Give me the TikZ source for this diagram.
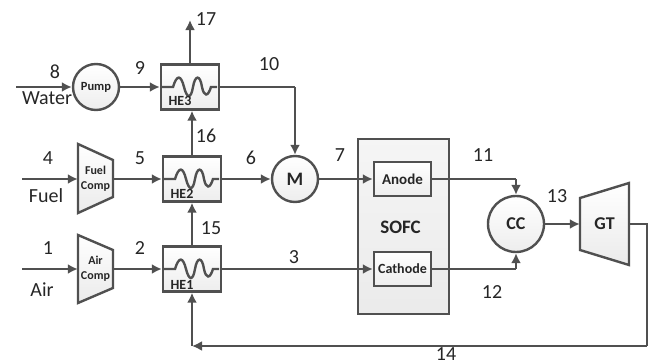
\documentclass[tikz,border=0pt]{standalone}
\usepackage{fontspec}
\setmainfont{Carlito}
\usetikzlibrary{arrows.meta,calc}
\definecolor{ln}{HTML}{505050}
\definecolor{tx}{HTML}{262626}
\tikzset{
 x=1pt,y=-1pt,
 line/.style={draw=ln,line width=2.4pt,line join=miter},
 flow/.style={line,-{Latex[length=10pt,width=10pt]}},
 unitbox/.style={draw=ln,line width=2.4pt,top color=white,bottom color=black!7,inner sep=0pt},
 hx/.style={unitbox,minimum width=58pt,minimum height=45pt},
 cell/.style={unitbox,minimum width=57pt,minimum height=34pt,text=tx,font=\bfseries\fontsize{15}{15}\selectfont},
 disc/.style={unitbox,circle,text=tx,font=\bfseries},
 tagtext/.style={text=tx,font=\bfseries\fontsize{14}{14}\selectfont,inner sep=0pt},
 num/.style={text=tx,font=\fontsize{20}{20}\selectfont,inner sep=0pt},
 word/.style={text=tx,font=\fontsize{20}{20}\selectfont,inner sep=0pt},
 compbox/.style={inner sep=0pt,text=tx,align=center,font=\bfseries\fontsize{12}{15}\selectfont},
 coil/.pic={\draw[line] (-29,0) -- (-17,0) .. controls (-13,-13) and (-9,-12) .. (-6,0) .. controls (-3,12) and (1,12) .. (3,0) .. controls (5,-12) and (10,-13) .. (12,0) .. controls (14,10) and (18,10) .. (21,0) -- (27,0);}
}
\begin{document}
\begin{tikzpicture}
\useasboundingbox (0,0) rectangle (649,364);
% SOFC casing
\node[unitbox,minimum width=91pt,minimum height=175pt,top color=black!4,bottom color=black!8] (sofc) at (403.5,226.5) {};
\node[text=tx,font=\bfseries\fontsize{19}{19}\selectfont,inner sep=0pt] (sofclabel) at (400.5,227) {SOFC};
\node[cell] (anode) at (402.5,179) {Anode};
\node[cell,font=\bfseries\fontsize{14}{14}\selectfont] (cathode) at (402.5,269) {Cathode};
% exchangers
\node[hx] (he3) at (190,87) {};
\node[hx] (he2) at (192,179) {};
\node[hx] (he1) at (192,269) {};
\pic at (190,87) {coil};
\pic at (192,179) {coil};
\pic at (192,269) {coil};
\node[tagtext] (he3t) at (180,101) {HE3};
\node[tagtext] (he2t) at (182,194) {HE2};
\node[tagtext] (he1t) at (182,285) {HE1};
% round units
\node[disc,minimum size=46pt,font=\bfseries\fontsize{12.5}{13}\selectfont] (pump) at (96,87) {Pump};
\node[disc,minimum size=46pt,font=\bfseries\fontsize{19}{19}\selectfont] (m) at (295,179) {M};
\node[disc,minimum size=56pt,font=\bfseries\fontsize{18}{18}\selectfont] (cc) at (516,224) {CC};
% compressors and turbine
\fill[top color=white,bottom color=black!8] (78,144) -- (113,160) -- (113,197) -- (78,213) -- cycle;
\draw[line] (78,144) -- (113,160) -- (113,197) -- (78,213) -- cycle;
\fill[top color=white,bottom color=black!8] (78,235) -- (113,250) -- (113,288) -- (78,303) -- cycle;
\draw[line] (78,235) -- (113,250) -- (113,288) -- (78,303) -- cycle;
\fill[top color=white,bottom color=black!8] (580,198) -- (629,183) -- (629,265) -- (580,250) -- cycle;
\draw[line] (580,198) -- (629,183) -- (629,265) -- (580,250) -- cycle;
\node[compbox,minimum width=35pt,minimum height=69pt] (fuelcomp) at (95.5,179) {Fuel\\Comp};
\node[compbox,minimum width=35pt,minimum height=68pt] (aircomp) at (95.5,269) {Air\\Comp};
\node[compbox,minimum width=49pt,minimum height=82pt,font=\bfseries\fontsize{18}{18}\selectfont] (gt) at (604.5,224) {GT};
% free ends
\coordinate (waterin) at (16,87);
\coordinate (fuelin) at (22,179);
\coordinate (airin) at (22,269);
\coordinate (stack) at (190,20);
\coordinate (c10) at (295,87);
\coordinate (c11) at (516,179);
\coordinate (c12) at (516,269);
\coordinate (c14a) at (647,224);
\coordinate (c14b) at (647,346);
\coordinate (c14c) at (192,346);
% connectors
\draw[flow] (waterin) -- (pump.west);
\draw[flow] (pump.east) -- (he3.west);
\draw[flow] (he3.north) -- (stack);
\draw[line] (he3.east) -- (c10);
\draw[flow] (c10) -- (m.north);
\draw[flow] (fuelin) -- (fuelcomp.west);
\draw[flow] (fuelcomp.east) -- (he2.west);
\draw[flow] (he2.east) -- (m.west);
\draw[flow] (m.east) -- (anode.west);
\draw[flow] (he2.north) -- (he3.south -| he2.north);
\draw[flow] (he1.north) -- (he2.south);
\draw[flow] (airin) -- (aircomp.west);
\draw[flow] (aircomp.east) -- (he1.west);
\draw[flow] (he1.east) -- (cathode.west);
\draw[line] (anode.east) -- (c11);
\draw[flow] (c11) -- (cc.north);
\draw[line] (cathode.east) -- (c12);
\draw[flow] (c12) -- (cc.south);
\draw[flow] (cc.east) -- (gt.west);
\draw[line] (gt.east) -- (c14a) -- (c14b);
\draw[flow] (c14b) -- (c14c);
\draw[flow] (c14c) -- (he1.south);
% labels
\node[num] (n8) at (55,72) {8};
\node[word] (water) at (47,98) {Water};
\node[num] (n9) at (140,68) {9};
\node[num] (n10) at (269,64) {10};
\node[num] (n17) at (206,19) {17};
\node[num] (n16) at (206,136) {16};
\node[num] (n4) at (48,158) {4};
\node[num] (n5) at (140,158) {5};
\node[num] (n6) at (251,158) {6};
\node[num] (n7) at (340,155) {7};
\node[word] (fuel) at (46,196) {Fuel};
\node[num] (n1) at (48,248) {1};
\node[num] (n2) at (140,248) {2};
\node[num] (n15) at (211,228) {15};
\node[num] (n3) at (294,257) {3};
\node[word] (air) at (42,290) {Air};
\node[num] (n11) at (483,155) {11};
\node[num] (n12) at (492,292) {12};
\node[num] (n13) at (557,196) {13};
\node[num] (n14) at (446,354) {14};
\end{tikzpicture}
\end{document}
